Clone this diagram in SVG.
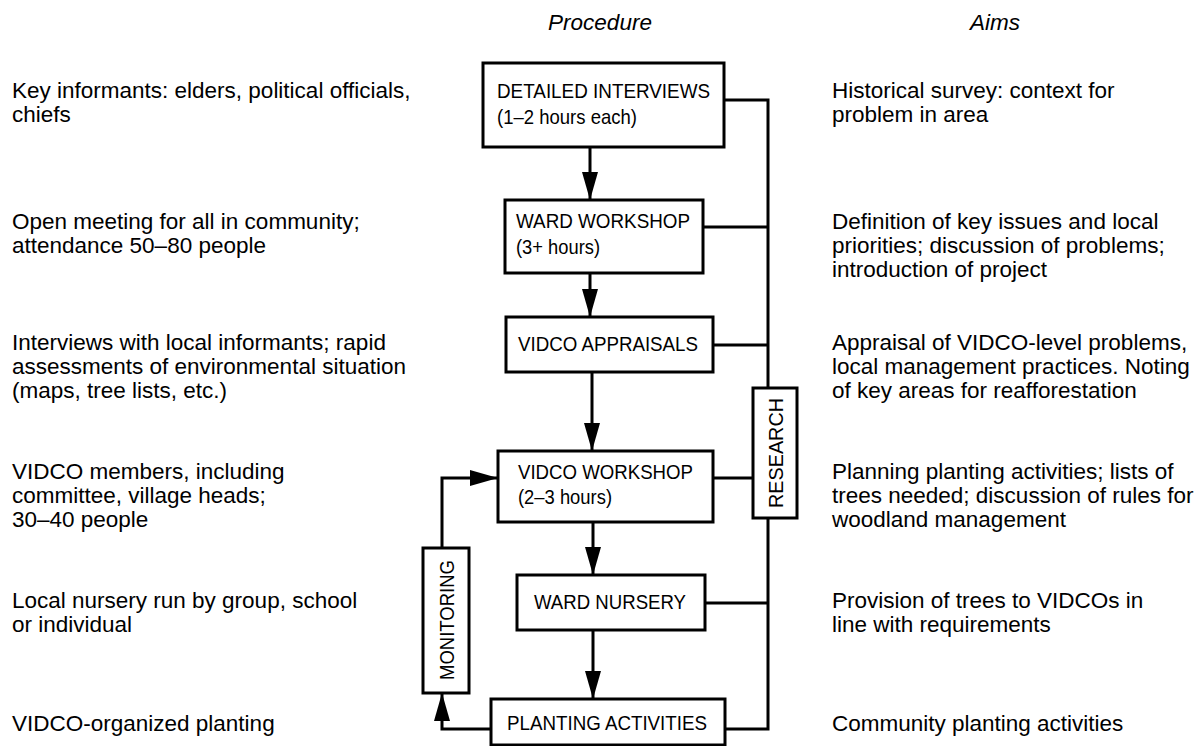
<svg xmlns="http://www.w3.org/2000/svg" width="1204" height="746" viewBox="0 0 1204 746">
<style>
  .side { font-family: "Liberation Sans", Arial, sans-serif; font-size: 22.5px; fill: #000; }
  .head { font-family: "Liberation Sans", Arial, sans-serif; font-size: 22.5px; font-style: italic; fill: #000; }
  .lbl { font-family: "Liberation Sans", Arial, sans-serif; font-size: 21px; fill: #000; }
  .box { fill: #fff; stroke: #000; stroke-width: 3; }
  .ln { fill: none; stroke: #000; stroke-width: 3; }
</style>
<defs>
  <marker id="ah" viewBox="0 0 28 16" refX="28" refY="8" markerWidth="28" markerHeight="16" markerUnits="userSpaceOnUse" orient="auto">
    <path d="M0,0 L28,8 L0,16 z" fill="#000"/>
  </marker>
</defs>
<rect width="1204" height="746" fill="#fff"/>

<g id="headers">
  <text class="head" x="600" y="30" text-anchor="middle">Procedure</text>
  <text class="head" x="995" y="30" text-anchor="middle">Aims</text>
</g>

<g id="left-column">
  <text class="side" x="12" y="98">Key informants: elders, political officials,</text>
  <text class="side" x="12" y="122">chiefs</text>
  <text class="side" x="12" y="229">Open meeting for all in community;</text>
  <text class="side" x="12" y="253">attendance 50–80 people</text>
  <text class="side" x="12" y="350">Interviews with local informants; rapid</text>
  <text class="side" x="12" y="374">assessments of environmental situation</text>
  <text class="side" x="12" y="398">(maps, tree lists, etc.)</text>
  <text class="side" x="12" y="479">VIDCO members, including</text>
  <text class="side" x="12" y="503">committee, village heads;</text>
  <text class="side" x="12" y="527">30–40 people</text>
  <text class="side" x="12" y="608">Local nursery run by group, school</text>
  <text class="side" x="12" y="632">or individual</text>
  <text class="side" x="12" y="731">VIDCO-organized planting</text>
</g>

<g id="right-column">
  <text class="side" x="832" y="98">Historical survey: context for</text>
  <text class="side" x="832" y="122">problem in area</text>
  <text class="side" x="832" y="229">Definition of key issues and local</text>
  <text class="side" x="832" y="253">priorities; discussion of problems;</text>
  <text class="side" x="832" y="277">introduction of project</text>
  <text class="side" x="832" y="350">Appraisal of VIDCO-level problems,</text>
  <text class="side" x="832" y="374">local management practices. Noting</text>
  <text class="side" x="832" y="398">of key areas for reafforestation</text>
  <text class="side" x="832" y="479">Planning planting activities; lists of</text>
  <text class="side" x="832" y="503">trees needed; discussion of rules for</text>
  <text class="side" x="832" y="527">woodland management</text>
  <text class="side" x="832" y="608">Provision of trees to VIDCOs in</text>
  <text class="side" x="832" y="632">line with requirements</text>
  <text class="side" x="832" y="731">Community planting activities</text>
</g>

<g id="connectors">
  <path class="ln" d="M590,147 V200" marker-end="url(#ah)"/>
  <path class="ln" d="M590,273 V317" marker-end="url(#ah)"/>
  <path class="ln" d="M592,372 V451" marker-end="url(#ah)"/>
  <path class="ln" d="M593,522 V575" marker-end="url(#ah)"/>
  <path class="ln" d="M593,630 V699" marker-end="url(#ah)"/>
  <path class="ln" d="M724,100 H768 V388"/>
  <path class="ln" d="M703,227 H768"/>
  <path class="ln" d="M713,345 H768"/>
  <path class="ln" d="M713,478 H753"/>
  <path class="ln" d="M768,518 V729 H725"/>
  <path class="ln" d="M705,603 H768"/>
  <path class="ln" d="M491,729 H442 V693" marker-end="url(#ah)"/>
  <path class="ln" d="M442,548 V478 H498" marker-end="url(#ah)"/>
</g>

<g id="detailed-interviews">
  <rect class="box" x="483" y="63" width="241" height="84"/>
  <text class="lbl" x="497" y="98" textLength="213" lengthAdjust="spacingAndGlyphs">DETAILED INTERVIEWS</text>
  <text class="lbl" x="497" y="124" textLength="140" lengthAdjust="spacingAndGlyphs">(1–2 hours each)</text>
</g>
<g id="ward-workshop">
  <rect class="box" x="505" y="200" width="198" height="73"/>
  <text class="lbl" x="516" y="228" textLength="174" lengthAdjust="spacingAndGlyphs">WARD WORKSHOP</text>
  <text class="lbl" x="516" y="254" textLength="84" lengthAdjust="spacingAndGlyphs">(3+ hours)</text>
</g>
<g id="vidco-appraisals">
  <rect class="box" x="506" y="317" width="207" height="55"/>
  <text class="lbl" x="518" y="351" textLength="180" lengthAdjust="spacingAndGlyphs">VIDCO APPRAISALS</text>
</g>
<g id="vidco-workshop">
  <rect class="box" x="498" y="451" width="215" height="71"/>
  <text class="lbl" x="518" y="479" textLength="175" lengthAdjust="spacingAndGlyphs">VIDCO WORKSHOP</text>
  <text class="lbl" x="518" y="504" textLength="94" lengthAdjust="spacingAndGlyphs">(2–3 hours)</text>
</g>
<g id="ward-nursery">
  <rect class="box" x="517" y="575" width="188" height="55"/>
  <text class="lbl" x="534" y="609" textLength="152" lengthAdjust="spacingAndGlyphs">WARD NURSERY</text>
</g>
<g id="planting-activities">
  <rect class="box" x="491" y="699" width="234" height="46"/>
  <text class="lbl" x="507" y="730" textLength="200" lengthAdjust="spacingAndGlyphs">PLANTING ACTIVITIES</text>
</g>
<g id="research">
  <rect class="box" x="753" y="388" width="44" height="130"/>
  <text class="lbl" x="-55" y="7.5" transform="translate(775,453) rotate(-90)" textLength="110" lengthAdjust="spacingAndGlyphs">RESEARCH</text>
</g>
<g id="monitoring">
  <rect class="box" x="423" y="548" width="46" height="145"/>
  <text class="lbl" x="-60" y="7.5" transform="translate(446,620) rotate(-90)" textLength="120" lengthAdjust="spacingAndGlyphs">MONITORING</text>
</g>
</svg>
